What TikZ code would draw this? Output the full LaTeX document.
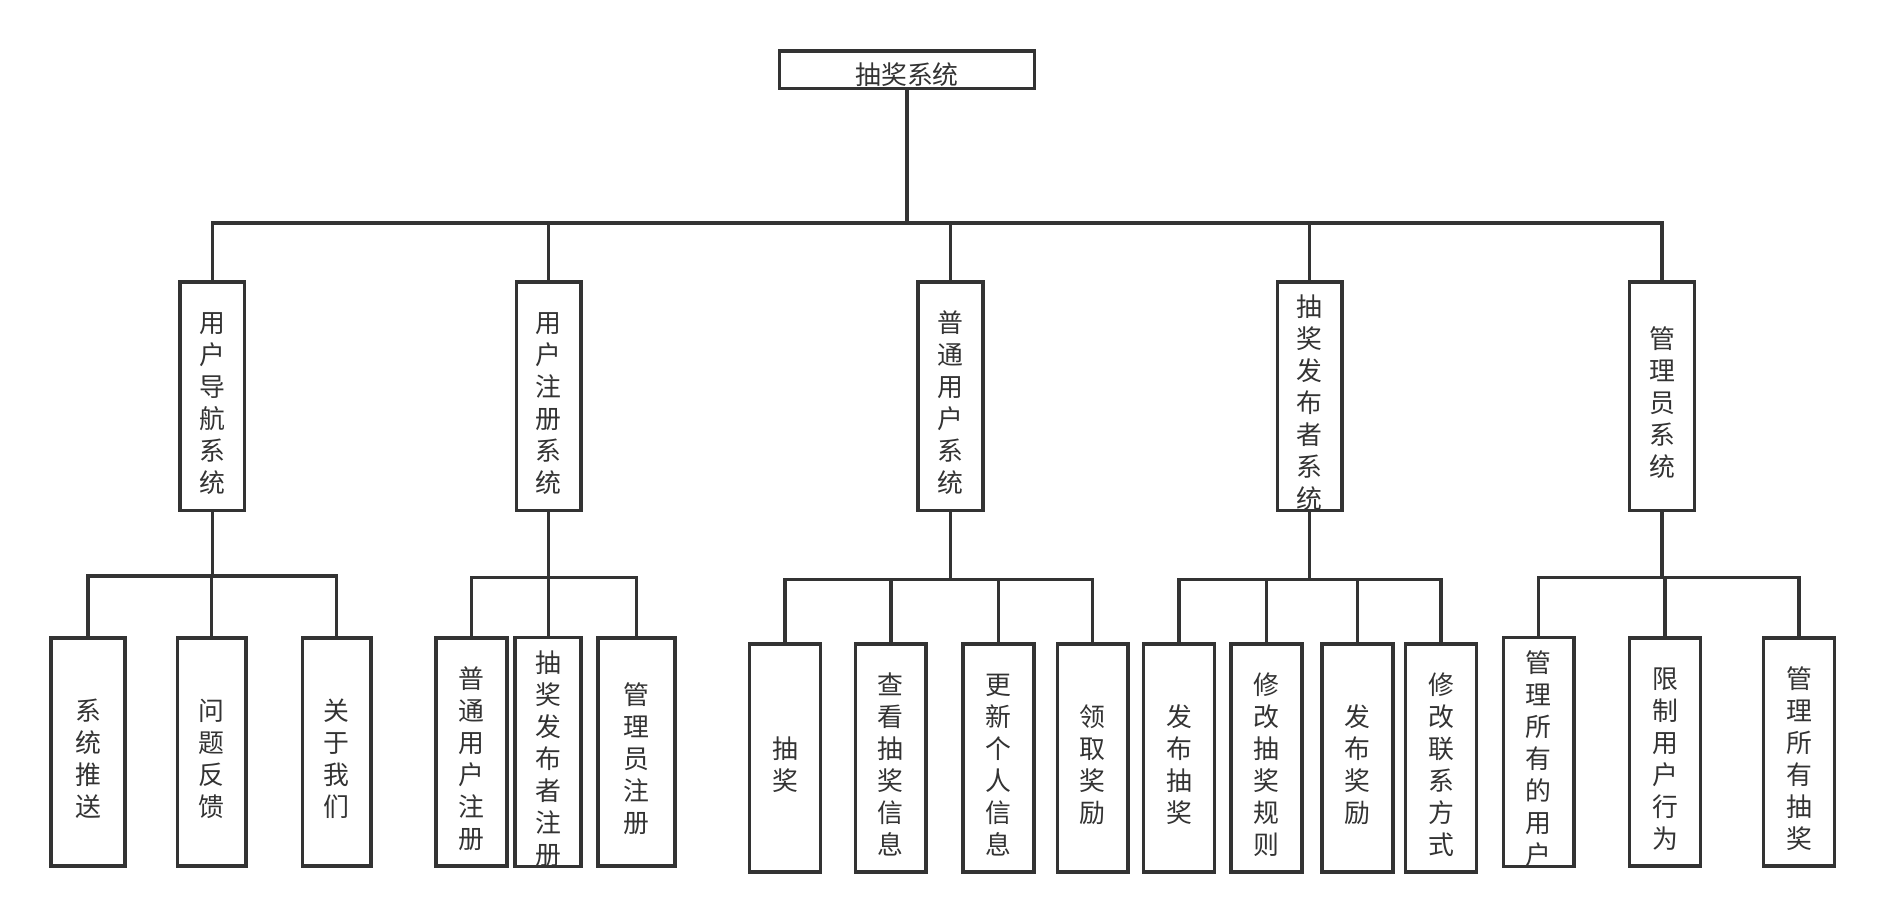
\documentclass[tikz,border=0pt]{standalone}
\usepackage{fontspec}
\newfontfamily\cjkfont{Noto Sans CJK SC}
\usepackage{tikz}
\usetikzlibrary{positioning,calc}
\definecolor{ink}{HTML}{333333}
\newcommand{\topgap}{\rule{0pt}{14.5pt}}

\begin{document}
\begin{tikzpicture}[x=0.5pt,y=-0.5pt,
  every node/.style={font=\cjkfont\fontsize{10.75pt}{13.3pt}\selectfont, text=ink},
  topbox/.style={draw=ink, line width=1.5pt, minimum width=106pt, minimum height=15.5pt, inner sep=0pt,
                 execute at begin node={\rule{0pt}{12.8pt}}},
  sysbox/.style={draw=ink, line width=1.5pt, minimum width=27pt, minimum height=95pt, inner sep=0pt, align=center},
  funbox/.style={draw=ink, line width=1.5pt, minimum width=29.5pt, minimum height=95pt, inner sep=0pt, align=center},
  link/.style={draw=ink, line width=1.4pt}]
  \useasboundingbox (0,0) rectangle (1568,768);

  % root
  \node[topbox] (root) at (754.5,58) {抽奖系统};

  % subsystems
  \node[sysbox] (nav) at (176.5,329.5)  {\topgap 用\\户\\导\\航\\系\\统};
  \node[sysbox] (reg) at (456.5,329.5)  {\topgap 用\\户\\注\\册\\系\\统};
  \node[sysbox] (usr) at (790.5,329.5)  {\topgap 普\\通\\用\\户\\系\\统};
  \node[sysbox] (pub) at (1089.5,329.5) {\topgap 抽\\奖\\发\\布\\者\\系\\统};
  \node[sysbox] (adm) at (1382.5,329.5) {\topgap 管\\理\\员\\系\\统};

  % functions: navigation
  \node[funbox, minimum width=30.75pt] (push) at (73.25,625.5) {\topgap 系\\统\\推\\送};
  \node[funbox, minimum width=28.5pt] (feedback) at (176,625.5) {\topgap 问\\题\\反\\馈};
  \node[funbox, minimum width=28.5pt] (about) at (280,625.5) {\topgap 关\\于\\我\\们};

  % functions: registration
  \node[funbox] (regusr) at (392,625.5) {\topgap 普\\通\\用\\户\\注\\册};
  \node[funbox, minimum width=27.5pt] (regpub) at (456,625.5) {\topgap 抽\\奖\\发\\布\\者\\注\\册};
  \node[funbox, minimum width=32pt] (regadm) at (529.5,625.5) {\topgap 管\\理\\员\\注\\册};

  % functions: normal user
  \node[funbox] (lottery)  at (653,630.5)    {\topgap 抽\\奖};
  \node[funbox] (viewinfo) at (741,630.5)    {\topgap 查\\看\\抽\\奖\\信\\息};
  \node[funbox] (update)   at (830.75,630.5) {\topgap 更\\新\\个\\人\\信\\息};
  \node[funbox] (claim)    at (909,630.5)    {\topgap 领\\取\\奖\\励};

  % functions: publisher
  \node[funbox] (publish) at (980.8,630.5)   {\topgap 发\\布\\抽\\奖};
  \node[funbox] (rules)   at (1053.5,630.5)  {\topgap 修\\改\\抽\\奖\\规\\则};
  \node[funbox] (prize)   at (1129,630.5)    {\topgap 发\\布\\奖\\励};
  \node[funbox] (contact) at (1198.75,630.5) {\topgap 修\\改\\联\\系\\方\\式};

  % functions: admin
  \node[funbox] (mgusers) at (1280,625.5)   {\topgap 管\\理\\所\\有\\的\\用\\户};
  \node[funbox] (limit)   at (1385,625.5)   {\topgap 限\\制\\用\\户\\行\\为};
  \node[funbox] (mglott)  at (1496.5,625.5) {\topgap 管\\理\\所\\有\\抽\\奖};

  % connectors
  \draw[link] (root.south) -- ++(0,110.5) coordinate (rootbus);
  \foreach \c in {nav,reg,usr,pub,adm} \draw[link] (rootbus) -| (\c.north);

  \draw[link] (nav.south) -- ++(0,53) coordinate (navbus);
  \foreach \c in {push,feedback,about} \draw[link] (navbus) -| (\c.north);

  \draw[link] (reg.south) -- ++(0,54.5) coordinate (regbus);
  \foreach \c in {regusr,regpub,regadm} \draw[link] (regbus) -| (\c.north);

  \draw[link] (usr.south) -- ++(0,56) coordinate (usrbus);
  \foreach \c in {lottery,viewinfo,update,claim} \draw[link] (usrbus) -| (\c.north);

  \draw[link] (pub.south) -- ++(0,56) coordinate (pubbus);
  \foreach \c in {publish,rules,prize,contact} \draw[link] (pubbus) -| (\c.north);

  \draw[link] (adm.south) -- ++(0,54.5) coordinate (admbus);
  \foreach \c in {mgusers,limit,mglott} \draw[link] (admbus) -| (\c.north);
\end{tikzpicture}
\end{document}
